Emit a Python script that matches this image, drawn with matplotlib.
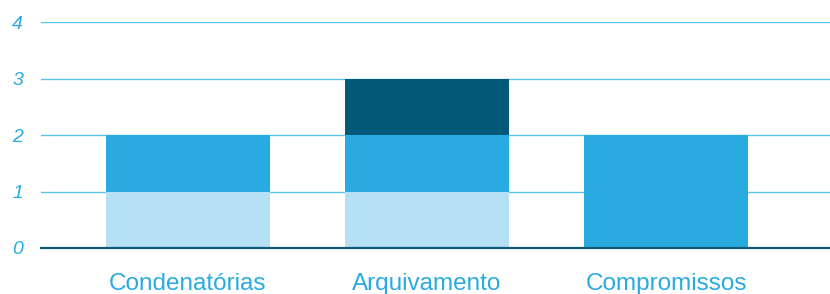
import numpy as np
import matplotlib.pyplot as plt

categories = ["Condenatórias", "Arquivamento", "Compromissos"]
light_vals = [1, 1, 0]
mid_vals = [1, 1, 2]
dark_vals = [0, 1, 0]
yticks = [0, 1, 2, 3, 4]

c_light = "#b5e0f3"
c_mid = "#29abe2"
c_dark = "#035a78"
c_text = "#29abe2"

plt.rcParams['font.family'] = ['Liberation Sans', 'DejaVu Sans']

fig = plt.figure(figsize=(8.3, 2.94), dpi=100)
ax = fig.add_axes([0.0494, 0.1565, 0.9506, 0.7685])

x = np.arange(len(categories))
w = 0.686
light = np.array(light_vals)
mid = np.array(mid_vals)
dark = np.array(dark_vals)
ax.bar(x, light, w, color=c_light, zorder=3)
ax.bar(x, mid, w, bottom=light, color=c_mid, zorder=3)
ax.bar(x, dark, w, bottom=light + mid, color=c_dark, zorder=3)

ax.set_xlim(-0.615, 2.686)
ax.set_ylim(0, 4)
ax.set_yticks(yticks)
ax.set_yticklabels([str(t) for t in yticks], fontstyle='italic', fontsize=14, color=c_text)
ax.set_xticks(x)
ax.set_xticklabels(categories, fontsize=17.5, color=c_text)
ax.tick_params(axis='both', length=0)
ax.tick_params(axis='y', pad=13)
ax.tick_params(axis='x', pad=18)
ax.grid(axis='y', color="#5cc3ee", linewidth=1, zorder=0)
for s in ['top', 'right', 'left']:
    ax.spines[s].set_visible(False)
ax.spines['bottom'].set_color("#0e5a7a")
ax.spines['bottom'].set_linewidth(1.6)
ax.spines['bottom'].set_zorder(4)

fig.savefig("out.png", dpi=100)
